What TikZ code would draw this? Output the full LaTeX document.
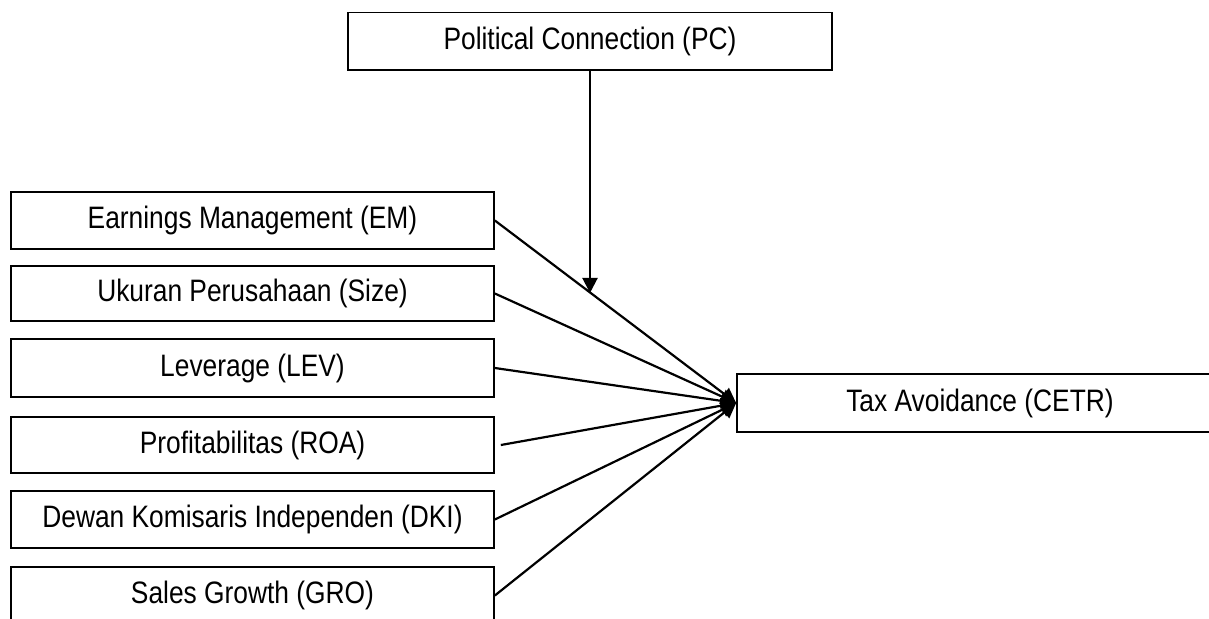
\documentclass[tikz,border=0pt]{standalone}
\usepackage{fontspec}
\setmainfont{Liberation Sans}[FakeStretch=0.85]
\usetikzlibrary{arrows.meta}
\begin{document}
\begin{tikzpicture}[x=1pt,y=-1pt,
  varbox/.style={draw=black, line width=1.7pt, inner sep=0pt, anchor=center,
    font=\fontsize{31}{37}\selectfont},
  conn/.style={line width=2.2pt, -{Triangle[length=15pt,width=15pt]}}]
\useasboundingbox (0,0) rectangle (1209,618);
\clip (0,0) rectangle (1209,618);
\fill[white] (0,0) rectangle (1209,618);
\node[varbox, minimum width=484pt, minimum height=57.5pt] (pc) at (590,41.25) {Political Connection (PC)};
\node[varbox, minimum width=483pt, minimum height=57pt] (em) at (252.5,220.5) {Earnings Management (EM)};
\node[varbox, minimum width=483pt, minimum height=55pt] (size) at (252.5,293.5) {Ukuran Perusahaan (Size)};
\node[varbox, minimum width=483pt, minimum height=58pt] (lev) at (252.5,368) {Leverage (LEV)};
\node[varbox, minimum width=483pt, minimum height=56pt] (roa) at (252.5,445) {Profitabilitas (ROA)};
\node[varbox, minimum width=483pt, minimum height=57pt] (dki) at (252.5,519.5) {Dewan Komisaris Independen (DKI)};
\node[varbox, minimum width=483pt, minimum height=57pt] (gro) at (252.5,595.5) {Sales Growth (GRO)};
\node[varbox, minimum width=486pt, minimum height=58pt] (cetr) at (980,403) {Tax Avoidance (CETR)};
\draw[conn] (em.east) -- coordinate[pos=0.397] (m) (cetr.west);
\draw[conn] (size.east) -- (cetr.west);
\draw[conn] (lev.east) -- (cetr.west);
\draw[conn] ([xshift=6pt]roa.east) -- (cetr.west);
\draw[conn] (dki.east) -- (cetr.west);
\draw[conn] (gro.east) -- (cetr.west);
\draw[conn] (pc.south) -- (pc.south |- m);
\end{tikzpicture}
\end{document}
